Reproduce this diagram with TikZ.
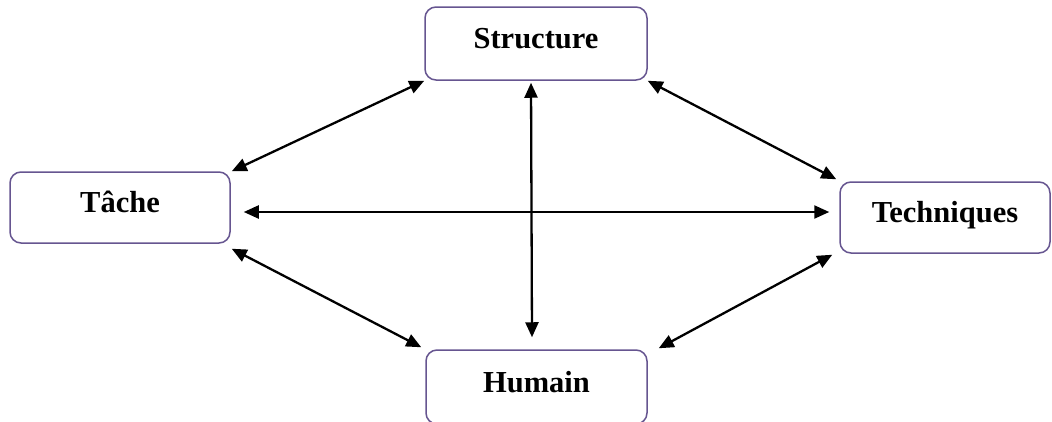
\documentclass[tikz,border=0pt]{standalone}
\usepackage{fontspec}
\setmainfont{Liberation Serif}
\usetikzlibrary{arrows.meta}
\definecolor{boxline}{HTML}{665590}
\tikzset{
  factor/.style={draw=boxline, line width=1.5pt, rounded corners=11pt, fill=white,
    font=\fontsize{30.5}{34}\selectfont\bfseries, text height=20pt, text depth=10pt,
    inner sep=0pt},
  link/.style={line width=2.3pt, {Triangle[length=15pt,width=13pt]}-{Triangle[length=15pt,width=13pt]}}
}
\begin{document}
\begin{tikzpicture}[x=1pt,y=-1pt]
  \useasboundingbox (0,0) rectangle (1052,421);
  % the four factors
  \node[factor, minimum width=222pt, minimum height=73pt] (structure) at (536,43.5) {Structure};
  \node[factor, minimum width=220pt, minimum height=71pt] (tache) at (120,207.5) {Tâche};
  \node[factor, minimum width=210pt, minimum height=71pt] (techniques) at (945,217.5) {Techniques};
  \node[factor, minimum width=221pt, minimum height=74pt] (humain) at (536.5,387) {Humain};
  % mutual links
  \draw[link] ([shift={(1pt,0pt)}]tache.north east) -- (structure.south west);
  \draw[link] (structure.south east) -- ([shift={(-3pt,2pt)}]techniques.north west);
  \draw[link] ([shift={(13pt,-4.5pt)}]tache.east) -- ([shift={(-10pt,5.5pt)}]techniques.west);
  \draw[link] ([shift={(-5pt,-2pt)}]structure.south) -- ([shift={(-4.5pt,12pt)}]humain.north);
  \draw[link] ([shift={(1pt,-5pt)}]tache.south east) -- ([shift={(-4pt,2pt)}]humain.north west);
  \draw[link] ([shift={(11pt,1pt)}]humain.north east) -- ([shift={(-7pt,-1pt)}]techniques.south west);
\end{tikzpicture}
\end{document}
